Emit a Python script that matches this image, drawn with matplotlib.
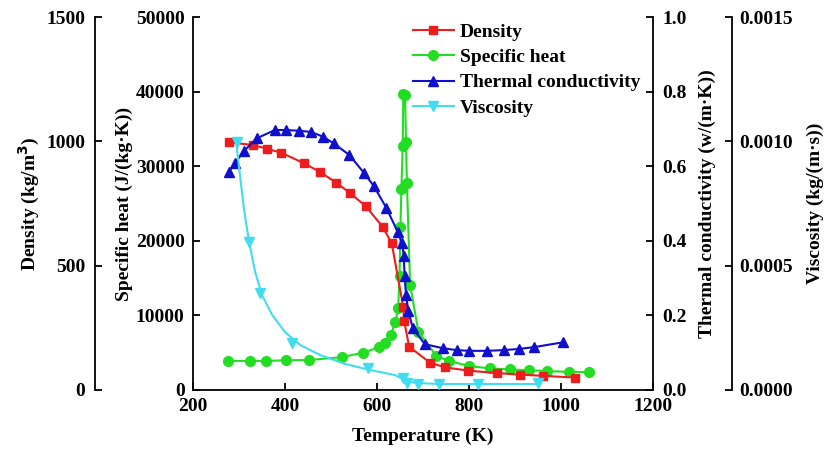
import numpy as np
import matplotlib
matplotlib.use('Agg')
import matplotlib.pyplot as plt
from matplotlib.ticker import FormatStrFormatter

parameters = {'font.family': 'Liberation Serif',
              'font.weight': 'bold',
              'font.size': 14,
              'axes.labelweight': 'bold',
              'axes.linewidth': 1.3,
              'xtick.direction': 'in',
              'ytick.direction': 'in',
              'xtick.major.width': 1.3,
              'ytick.major.width': 1.3,
              'xtick.major.size': 5,
              'ytick.major.size': 5,
              'lines.linewidth': 1.5}
plt.rcParams.update(parameters)

# density (kg/m3)
T_rho = [278, 331, 361, 392, 441, 476, 511, 542, 575, 612, 632, 657, 659, 670, 715, 748, 798, 860, 910, 960, 1030]
rho = [996, 985, 970, 954, 912, 877, 834, 791, 740, 657, 590, 335, 277, 174, 110, 91, 78, 68, 62, 57, 50]

# specific heat (J/(kg K))
T_cp = [277, 324, 359, 402, 453, 524, 569, 604, 617, 630, 640, 646, 649, 651, 653, 656, 657, 661, 663, 665, 672,
        690, 729, 757, 800, 845, 890, 930, 970, 1017, 1061]
cp = [3900, 3900, 3900, 3980, 4020, 4400, 5000, 5720, 6260, 7370, 9160, 10950, 15300, 21900, 27000, 32700, 39700,
      39500, 33300, 27800, 14100, 7820, 4560, 3890, 3200, 2900, 2750, 2650, 2550, 2420, 2410]

# thermal conductivity (W/(m K))
T_k = [278, 292, 310, 339, 378, 403, 430, 456, 483, 506, 540, 571, 593, 620, 645, 655, 658, 660, 663, 668, 678,
       704, 743, 773, 800, 840, 875, 908, 942, 1005]
k = [0.585, 0.609, 0.640, 0.675, 0.697, 0.697, 0.695, 0.692, 0.679, 0.661, 0.630, 0.583, 0.547, 0.489, 0.424,
     0.393, 0.360, 0.306, 0.255, 0.213, 0.165, 0.123, 0.112, 0.107, 0.105, 0.105, 0.107, 0.110, 0.115, 0.128]

# viscosity (kg/(m s)) markers and the fitted curve drawn through them
T_mu = [295, 322, 345, 415, 580, 657, 666, 690, 735, 820, 950]
mu = [0.000996, 0.000594, 0.000391, 0.000190, 0.0000890, 0.0000495, 0.0000294, 0.0000229, 0.0000235,
      0.0000245, 0.0000265]
T_mu_line = [294, 302, 311, 322, 335, 350, 372, 400, 433, 476, 530, 585, 639, 661, 683, 737, 954]
mu_line = [0.000997, 0.000865, 0.000724, 0.000595, 0.000475, 0.000382, 0.000302, 0.000233, 0.000181, 0.000141,
           0.000105, 0.0000804, 0.0000603, 0.0000402, 0.0000282, 0.0000241, 0.0000241]

fig = plt.figure(figsize=(8.31, 4.55), dpi=100)
ax = fig.add_axes([193/831, 1-390/455, 460/831, 373/455])
ax_rho = ax.twinx()
ax_k = ax.twinx()
ax_mu = ax.twinx()

# main axis: specific heat
ax.set_xlim(200, 1200)
ax.set_ylim(0, 50000)
ax.set_xticks(np.arange(200, 1201, 200))
ax.set_yticks(np.arange(0, 50001, 10000))
ax.spines['top'].set_visible(False)
ax.spines['right'].set_visible(False)
ax.tick_params(axis='x', pad=6)
ax.tick_params(axis='y', pad=6)
ax.set_xlabel('Temperature (K)', labelpad=9)
ax.set_ylabel('Specific heat (J/(kg\u00b7K))', labelpad=2)

# density axis on the far left
ax_rho.set_ylim(0, 1500)
ax_rho.set_yticks([0, 500, 1000, 1500])
ax_rho.yaxis.set_ticks_position('left')
ax_rho.yaxis.set_label_position('left')
ax_rho.spines['left'].set_position(('axes', (95-193)/460))
for s in ['top', 'right', 'bottom']:
    ax_rho.spines[s].set_visible(False)
ax_rho.tick_params(axis='y', pad=7)
ax_rho.set_ylabel('Density (kg/m$^\\mathbf{3}$)', labelpad=3)

# thermal conductivity on the right spine
ax_k.set_ylim(0, 1.0)
ax_k.set_yticks(np.arange(0, 1.01, 0.2))
ax_k.yaxis.set_major_formatter(FormatStrFormatter('%.1f'))
for s in ['top', 'left', 'bottom']:
    ax_k.spines[s].set_visible(False)
ax_k.tick_params(axis='y', pad=7)
ax_k.set_ylabel('Thermal conductivity (w/(m\u00b7K))', labelpad=8)

# viscosity on the far right
ax_mu.set_ylim(0, 0.0015)
ax_mu.set_yticks([0, 0.0005, 0.0010, 0.0015])
ax_mu.yaxis.set_major_formatter(FormatStrFormatter('%.4f'))
ax_mu.spines['right'].set_position(('axes', (732-193)/460))
for s in ['top', 'left', 'bottom']:
    ax_mu.spines[s].set_visible(False)
ax_mu.tick_params(axis='y', pad=5)
ax_mu.set_ylabel('Viscosity (kg/(m\u00b7s))', labelpad=10)

l1, = ax_rho.plot(T_rho, rho, color='#ee1c1c', marker='s', ms=5.5, label='Density')
l2, = ax.plot(T_cp, cp, color='#22dd22', marker='o', ms=7, label='Specific heat')
l3, = ax_k.plot(T_k, k, color='#1010cc', marker='^', ms=7, label='Thermal conductivity')
ax_mu.plot(T_mu_line, mu_line, color='#40dcf0')
ax_mu.plot(T_mu, mu, color='#40dcf0', marker='v', ms=7, ls='none')
l4, = ax_mu.plot([], [], color='#40dcf0', marker='v', ms=7, label='Viscosity')

ax_mu.legend(handles=[l1, l2, l3, l4], loc='upper left', bbox_to_anchor=(413/831, 1-23/455),
             bbox_transform=fig.transFigure, frameon=False, handlelength=2.1, handletextpad=0.3,
             labelspacing=0.4, borderpad=0, borderaxespad=0)

fig.savefig('out.png', dpi=100)
